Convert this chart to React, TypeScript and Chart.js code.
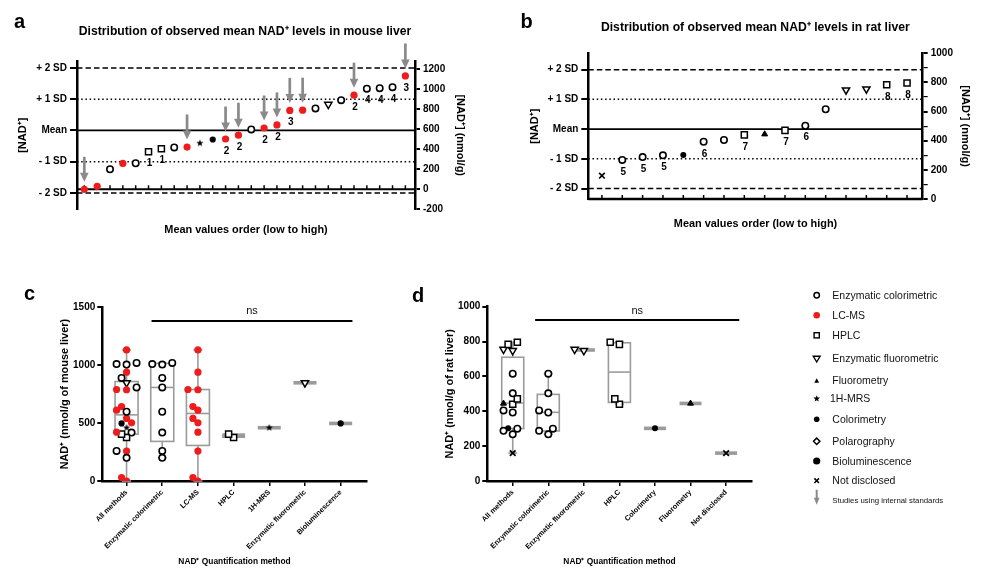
import React, { useEffect, useRef } from "react";
import { Chart, registerables } from "chart.js";

Chart.register(...registerables);

const FONT = "'Liberation Sans', Arial, Helvetica, sans-serif";
Chart.defaults.font.family = FONT;
Chart.defaults.color = "#000";

// ================= DATA =================
// Panel a: mouse liver, studies ordered low -> high
const MOUSE_VALUES = [0, 30, 200, 258, 260, 375, 405, 418, 422, 460, 497, 502, 540, 598, 612, 643, 788, 790, 808, 848, 890, 940, 1005, 1010, 1020, 1132];
const MOUSE_METHODS = [
  "LC-MS", "LC-MS", "Enzymatic colorimetric", "LC-MS", "Enzymatic colorimetric",
  "HPLC", "HPLC", "Enzymatic colorimetric", "LC-MS", "1H-MRS",
  "Bioluminescence", "LC-MS", "LC-MS", "Enzymatic colorimetric", "LC-MS",
  "LC-MS", "LC-MS", "LC-MS", "Enzymatic colorimetric", "Enzymatic fluorometric",
  "Enzymatic colorimetric", "LC-MS", "Enzymatic colorimetric", "Enzymatic colorimetric", "Enzymatic colorimetric",
  "LC-MS",
];
const MOUSE_INTERNAL_STD = [1, 0, 0, 0, 0, 0, 0, 0, 1, 0, 0, 1, 1, 0, 1, 1, 1, 1, 0, 0, 0, 1, 0, 0, 0, 1];
const MOUSE_STUDY_TAGS = ["", "", "", "", "", "1", "1", "", "", "", "", "2", "2", "", "2", "2", "3", "", "", "", "", "2", "4", "4", "4", "3"];
const MOUSE_MEAN = 588;
const MOUSE_SD = 312;
const MOUSE_RIGHT_TICKS = [-200, 0, 200, 400, 600, 800, 1000, 1200];

// Panel b: rat liver
const RAT_VALUES = [160, 268, 288, 300, 302, 393, 405, 440, 445, 471, 503, 616, 748, 755, 784, 796];
const RAT_METHODS = [
  "Not disclosed", "Enzymatic colorimetric", "Enzymatic colorimetric", "Enzymatic colorimetric", "Colorimetry",
  "Enzymatic colorimetric", "Enzymatic colorimetric", "HPLC", "Fluorometry", "HPLC",
  "Enzymatic colorimetric", "Enzymatic colorimetric", "Enzymatic fluorometric", "Enzymatic fluorometric", "HPLC",
  "HPLC",
];
const RAT_STUDY_TAGS = ["", "5", "5", "5", "", "6", "", "7", "", "7", "6", "", "", "", "8", "8"];
const RAT_MEAN = 480;
const RAT_SD = 204;
const RAT_RIGHT_TICKS = [0, 100, 200, 300, 400, 500, 600, 700, 800, 900, 1000];

const SD_LEVELS = [-2, -1, 0, 1, 2];
const SD_LABELS = ["- 2 SD", "- 1 SD", "Mean", "+ 1 SD", "+ 2 SD"];

// Panel c: mouse by method
const MOUSE_CATEGORIES = ["All methods", "Enzymatic colorimetric", "LC-MS", "HPLC", "1H-MRS", "Enzymatic fluorometric", "Bioluminescence"];
const MOUSE_BOX_MIN = [0, 200, 0, 375, 460, 848, 497];
const MOUSE_BOX_Q1 = [405, 342, 307, 378, 460, 848, 497];
const MOUSE_BOX_MED = [571, 808, 583, 390, 460, 848, 497];
const MOUSE_BOX_Q3 = [859, 1015, 790, 405, 460, 848, 497];
const MOUSE_BOX_MAX = [1132, 1020, 1132, 405, 460, 848, 497];
const MOUSE_Y_TICKS = [0, 500, 1000, 1500];

// Panel d: rat by method
const RAT_CATEGORIES = ["All methods", "Enzymatic colorimetric", "Enzymatic fluorometric", "HPLC", "Colorimetry", "Fluorometry", "Not disclosed"];
const RAT_BOX_MIN = [160, 268, 748, 440, 302, 445, 160];
const RAT_BOX_Q1 = [301, 287, 748, 451, 302, 445, 160];
const RAT_BOX_MED = [447, 394, 751, 625, 302, 445, 160];
const RAT_BOX_Q3 = [710, 497, 755, 793, 302, 445, 160];
const RAT_BOX_MAX = [796, 616, 755, 796, 302, 445, 160];
const RAT_Y_TICKS = [0, 200, 400, 600, 800, 1000];

const LEGEND_ITEMS = ["Enzymatic colorimetric", "LC-MS", "HPLC", "Enzymatic fluorometric", "Fluorometry", "1H-MRS", "Colorimetry", "Polarography", "Bioluminescence", "Not disclosed"];

// ================= STYLE =================
const RED = "#ee1c1c";
const GRAY = "#9b9b9b";
const ARROW_GRAY = "#8a8a8a";
const NAD = "NAD\u207A";

function makeStarCanvas(outer: number): HTMLCanvasElement {
  const size = Math.ceil(outer * 2 + 2);
  const c = document.createElement("canvas");
  c.width = size;
  c.height = size;
  const g = c.getContext("2d")!;
  g.fillStyle = "#000";
  g.beginPath();
  for (let i = 0; i < 10; i++) {
    const r = i % 2 === 0 ? outer : outer * 0.42;
    const a = -Math.PI / 2 + (i * Math.PI) / 5;
    const x = size / 2 + r * Math.cos(a);
    const y = size / 2 + r * Math.sin(a);
    if (i === 0) g.moveTo(x, y);
    else g.lineTo(x, y);
  }
  g.closePath();
  g.fill();
  return c;
}

let STAR: HTMLCanvasElement | null = null;
function star() {
  if (!STAR) STAR = makeStarCanvas(3.8);
  return STAR;
}

function markerStyle(method: string) {
  switch (method) {
    case "Enzymatic colorimetric":
      return { pointStyle: "circle", radius: 3.2, bg: "#fff", border: "#000", bw: 1.6, rotation: 0 };
    case "LC-MS":
      return { pointStyle: "circle", radius: 3.6, bg: RED, border: RED, bw: 0, rotation: 0 };
    case "HPLC":
      return { pointStyle: "rect", radius: 4.3, bg: "#fff", border: "#000", bw: 1.5, rotation: 0 };
    case "Enzymatic fluorometric":
      return { pointStyle: "triangle", radius: 4.2, bg: "#fff", border: "#000", bw: 1.5, rotation: 180 };
    case "Fluorometry":
      return { pointStyle: "triangle", radius: 3.4, bg: "#000", border: "#000", bw: 1, rotation: 0 };
    case "1H-MRS":
      return { pointStyle: star(), radius: 4, bg: "#000", border: "#000", bw: 0, rotation: 0 };
    case "Colorimetry":
      return { pointStyle: "circle", radius: 3, bg: "#000", border: "#000", bw: 0, rotation: 0 };
    case "Bioluminescence":
      return { pointStyle: "circle", radius: 3.1, bg: "#000", border: "#000", bw: 0, rotation: 0 };
    case "Not disclosed":
      return { pointStyle: "crossRot", radius: 4, bg: "#000", border: "#000", bw: 1.7, rotation: 0 };
    default:
      return { pointStyle: "circle", radius: 3, bg: "#fff", border: "#000", bw: 1.5, rotation: 0 };
  }
}

function scatterDataset(method: string, data: { x: number; y: number }[], yAxisID: string) {
  const s = markerStyle(method);
  return {
    label: method,
    data,
    xAxisID: "x",
    yAxisID,
    showLine: false,
    pointStyle: s.pointStyle as any,
    pointRadius: s.radius,
    pointHoverRadius: s.radius,
    pointBackgroundColor: s.bg,
    pointBorderColor: s.border,
    pointBorderWidth: s.bw,
    pointRotation: s.rotation,
  };
}

function seriesDatasets(values: number[], methods: string[]) {
  const by: Record<string, { x: number; y: number }[]> = {};
  values.forEach((v, i) => {
    (by[methods[i]] = by[methods[i]] || []).push({ x: i, y: v });
  });
  return LEGEND_ITEMS.filter((m) => by[m]).map((m) => scatterDataset(m, by[m], "yL"));
}

// simple bee-swarm: spread colliding points sideways, at most two steps each way
function swarm(values: number[], pxPerY: number, diam: number, step: number): number[] {
  const order = values.map((_, i) => i).sort((a, b) => values[a] - values[b]);
  const placed: { x: number; y: number }[] = [];
  const res = values.map(() => 0);
  order.forEach((i) => {
    const yy = values[i] * pxPerY;
    let best = 0;
    let bestD = -1;
    for (let k = 0; k <= 4; k++) {
      const m = Math.ceil(k / 2) * (k % 2 === 1 ? -1 : 1);
      const xx = m * step;
      const d = placed.reduce((acc, p) => Math.min(acc, Math.hypot(p.x - xx, p.y - yy)), Infinity);
      if (d >= diam) {
        best = xx;
        bestD = Infinity;
        break;
      }
      if (d > bestD) {
        bestD = d;
        best = xx;
      }
    }
    res[i] = best;
    placed.push({ x: best, y: yy });
  });
  return res;
}

function columnDatasets(values: number[], methods: string[], categories: string[], pxPerY: number, pxPerX: number, diam: number, step: number) {
  const by: Record<string, { x: number; y: number }[]> = {};
  categories.forEach((cat, ci) => {
    const idx = values.map((_, i) => i).filter((i) => ci === 0 || methods[i] === cat);
    const offs = swarm(idx.map((i) => values[i]), pxPerY, diam, step);
    idx.forEach((i, j) => {
      (by[methods[i]] = by[methods[i]] || []).push({ x: ci + offs[j] / pxPerX, y: values[i] });
    });
  });
  return LEGEND_ITEMS.filter((m) => by[m]).map((m) => scatterDataset(m, by[m], "y"));
}

// ================= DRAW HELPERS =================
function seg(ctx: CanvasRenderingContext2D, x1: number, y1: number, x2: number, y2: number) {
  ctx.beginPath();
  ctx.moveTo(x1, y1);
  ctx.lineTo(x2, y2);
  ctx.stroke();
}

function drawSdLines(ctx: CanvasRenderingContext2D, ca: any, yScale: any, mean: number, sd: number) {
  ctx.strokeStyle = "#000";
  SD_LEVELS.forEach((k) => {
    const py = yScale.getPixelForValue(mean + k * sd);
    ctx.lineWidth = k === 0 ? 1.7 : 1.5;
    ctx.setLineDash(Math.abs(k) === 2 ? [5.5, 3] : Math.abs(k) === 1 ? [1.5, 2.7] : []);
    seg(ctx, ca.left, py, ca.right, py);
  });
  ctx.setLineDash([]);
}

function drawArrow(ctx: CanvasRenderingContext2D, x: number, tipY: number) {
  const total = 25;
  const headH = 9;
  const headW = 8.6;
  const shaftW = 2.7;
  ctx.fillStyle = ARROW_GRAY;
  ctx.fillRect(x - shaftW / 2, tipY - total, shaftW, total - headH + 0.5);
  ctx.beginPath();
  ctx.moveTo(x - headW / 2, tipY - headH);
  ctx.lineTo(x + headW / 2, tipY - headH);
  ctx.lineTo(x, tipY);
  ctx.closePath();
  ctx.fill();
}

function orderPlugin(id: string, values: number[], mean: number, sd: number, tags: string[], arrows: number[] | null, axisWidth: number) {
  return {
    id,
    beforeDatasetsDraw(chart: any) {
      const { ctx, chartArea: ca, scales } = chart;
      const y = scales.yL;
      const x = scales.x;
      ctx.save();
      drawSdLines(ctx, ca, y, mean, sd);
      const y0 = y.getPixelForValue(0);
      ctx.strokeStyle = "#000";
      ctx.lineWidth = axisWidth;
      seg(ctx, ca.left, y0, ca.right, y0);
      ctx.lineWidth = 1.5;
      values.forEach((_, i) => {
        const px = x.getPixelForValue(i);
        seg(ctx, px, y0, px, y0 - 4);
      });
      ctx.restore();
    },
    afterDatasetsDraw(chart: any) {
      const { ctx, scales } = chart;
      const y = scales.yL;
      const x = scales.x;
      ctx.save();
      ctx.font = `bold 10px ${FONT}`;
      ctx.textAlign = "center";
      ctx.textBaseline = "middle";
      values.forEach((v, i) => {
        const px = x.getPixelForValue(i);
        const py = y.getPixelForValue(v);
        if (tags[i]) {
          ctx.fillStyle = "#000";
          ctx.fillText(tags[i], px + 1, py + 12);
        }
        if (arrows && arrows[i]) drawArrow(ctx, px, py - 7.5);
      });
      ctx.restore();
    },
  };
}

function boxPlugin(id: string, mins: number[], q1s: number[], meds: number[], q3s: number[], maxs: number[], halfW: number, ns: { from: number; to: number; lineY: number; textY: number }) {
  return {
    id,
    beforeDatasetsDraw(chart: any) {
      const { ctx, scales } = chart;
      const x = scales.x;
      const y = scales.y;
      ctx.save();
      ctx.strokeStyle = GRAY;
      ctx.fillStyle = GRAY;
      ctx.lineWidth = 1.6;
      mins.forEach((mn, i) => {
        const cx = x.getPixelForValue(i);
        const pMin = y.getPixelForValue(mn);
        const pQ1 = y.getPixelForValue(q1s[i]);
        const pMed = y.getPixelForValue(meds[i]);
        const pQ3 = y.getPixelForValue(q3s[i]);
        const pMax = y.getPixelForValue(maxs[i]);
        if (pQ1 - pQ3 < 4) {
          const h = Math.max(3.6, pQ1 - pQ3 + 1.6);
          const mid = (pQ1 + pQ3) / 2;
          ctx.fillRect(cx - halfW, mid - h / 2, halfW * 2, h);
        } else {
          ctx.strokeRect(cx - halfW, pQ3, halfW * 2, pQ1 - pQ3);
          seg(ctx, cx - halfW, pMed, cx + halfW, pMed);
        }
        if (pMax < pQ3 - 0.5) {
          seg(ctx, cx, pQ3, cx, pMax);
          seg(ctx, cx - 4.5, pMax, cx + 4.5, pMax);
        }
        if (pMin > pQ1 + 0.5) {
          seg(ctx, cx, pQ1, cx, pMin);
          seg(ctx, cx - 4.5, pMin, cx + 4.5, pMin);
        }
      });
      ctx.restore();
    },
    afterDatasetsDraw(chart: any) {
      const { ctx, scales } = chart;
      const x = scales.x;
      const y = scales.y;
      ctx.save();
      ctx.strokeStyle = "#000";
      ctx.lineWidth = 2;
      const ly = y.getPixelForValue(ns.lineY);
      const x1 = x.getPixelForValue(ns.from);
      const x2 = x.getPixelForValue(ns.to);
      seg(ctx, x1, ly, x2, ly);
      ctx.fillStyle = "#111";
      ctx.font = `11px ${FONT}`;
      ctx.textAlign = "center";
      ctx.textBaseline = "middle";
      ctx.fillText("ns", (x1 + x2) / 2, y.getPixelForValue(ns.textY));
      ctx.restore();
    },
  };
}

// ================= CHART CONFIGS =================
const BASE_OPTIONS = {
  responsive: false,
  animation: false as const,
  events: [] as any[],
};

function orderConfig(p: {
  values: number[];
  methods: string[];
  tags: string[];
  arrows: number[] | null;
  mean: number;
  sd: number;
  rightTicks: number[];
  yMin: number;
  yMax: number;
  xMin: number;
  xMax: number;
  title: string;
  titlePad: { top: number; bottom: number };
  padLeft: number;
  leftW: number;
  rightW: number;
  leftTitlePad: number;
  rightTitlePad: number;
  xH: number;
  xTitlePad: number;
  axisWidth: number;
  id: string;
  minorEvery?: number;
}) {
  const bold = (size: number) => ({ size, weight: "bold" as const, family: FONT });
  return {
    type: "scatter" as const,
    data: { datasets: seriesDatasets(p.values, p.methods) },
    options: {
      ...BASE_OPTIONS,
      layout: { padding: { left: p.padLeft, right: 0, top: 0, bottom: 0 } },
      plugins: {
        legend: { display: false },
        tooltip: { enabled: false },
        title: { display: true, text: p.title, font: bold(12.2), color: "#000", padding: p.titlePad },
      },
      scales: {
        x: {
          type: "linear",
          position: "bottom",
          min: p.xMin,
          max: p.xMax,
          ticks: { display: false },
          grid: { display: false },
          border: { display: false },
          title: { display: true, text: "Mean values order (low to high)", font: bold(10.9), color: "#000", padding: { top: 0, bottom: p.xTitlePad } },
          afterFit: (s: any) => {
            s.height = p.xH;
          },
        },
        yL: {
          type: "linear",
          position: "left",
          min: p.yMin,
          max: p.yMax,
          afterBuildTicks: (s: any) => {
            s.ticks = SD_LEVELS.map((k) => ({ value: p.mean + k * p.sd }));
          },
          ticks: { callback: (_v: any, i: number) => SD_LABELS[i], font: bold(10), color: "#000", padding: 3, autoSkip: false },
          grid: { drawOnChartArea: false, color: "#000", lineWidth: 2, tickLength: 7 },
          border: { color: "#000", width: 2.5 },
          title: { display: true, text: `[${NAD}]`, font: bold(11), color: "#000", padding: { top: p.leftTitlePad, bottom: 0 } },
          afterFit: (s: any) => {
            s.width = p.leftW;
          },
        },
        yR: {
          type: "linear",
          position: "right",
          min: p.yMin,
          max: p.yMax,
          afterBuildTicks: (s: any) => {
            s.ticks = p.rightTicks.map((v) => ({ value: v }));
          },
          ticks: {
            callback: (v: any) => (p.minorEvery && v % p.minorEvery !== 0 ? "" : String(v)),
            font: bold(10),
            color: "#000",
            padding: 3,
            autoSkip: false,
          },
          grid: {
            drawOnChartArea: false,
            color: "#000",
            lineWidth: (c: any) => (p.minorEvery && c.tick && c.tick.value % p.minorEvery !== 0 ? 1.2 : 2),
            tickLength: 5,
          },
          border: { color: "#000", width: 2.5 },
          title: { display: true, text: `[${NAD}] (nmol/g)`, font: bold(11), color: "#000", padding: { top: p.rightTitlePad, bottom: 0 } },
          afterFit: (s: any) => {
            s.width = p.rightW;
          },
        },
      },
    },
    plugins: [orderPlugin(p.id, p.values, p.mean, p.sd, p.tags, p.arrows, p.axisWidth)],
  };
}

function methodConfig(p: {
  values: number[];
  methods: string[];
  categories: string[];
  box: number[][];
  yTicks: number[];
  yMax: number;
  xMin: number;
  xMax: number;
  pxPerY: number;
  pxPerX: number;
  step: number;
  diam: number;
  halfW: number;
  yTitle: string;
  yTitlePad: number;
  leftW: number;
  padRight: number;
  padTop: number;
  xH: number;
  xTitlePad: number;
  ns: { from: number; to: number; lineY: number; textY: number };
  id: string;
}) {
  const bold = (size: number) => ({ size, weight: "bold" as const, family: FONT });
  return {
    type: "scatter" as const,
    data: { datasets: columnDatasets(p.values, p.methods, p.categories, p.pxPerY, p.pxPerX, p.diam, p.step) },
    options: {
      ...BASE_OPTIONS,
      layout: { padding: { left: 0, right: p.padRight, top: p.padTop, bottom: 0 } },
      plugins: { legend: { display: false }, tooltip: { enabled: false }, title: { display: false } },
      scales: {
        x: {
          type: "linear",
          position: "bottom",
          min: p.xMin,
          max: p.xMax,
          afterBuildTicks: (s: any) => {
            s.ticks = p.categories.map((_, i) => ({ value: i }));
          },
          ticks: {
            callback: (v: any) => p.categories[v] ?? "",
            autoSkip: false,
            maxRotation: 45,
            minRotation: 45,
            font: bold(7.3),
            color: "#000",
            padding: 2,
          },
          grid: { drawOnChartArea: false, color: "#000", lineWidth: 1.5, tickLength: 5 },
          border: { color: "#000", width: 2.5 },
          title: { display: true, text: `${NAD} Quantification method`, font: bold(8.4), color: "#000", padding: { top: 0, bottom: p.xTitlePad } },
          afterFit: (s: any) => {
            s.height = p.xH;
          },
        },
        y: {
          type: "linear",
          position: "left",
          min: 0,
          max: p.yMax,
          afterBuildTicks: (s: any) => {
            s.ticks = p.yTicks.map((v) => ({ value: v }));
          },
          ticks: { callback: (v: any) => String(v), font: bold(10), color: "#000", padding: 2, autoSkip: false },
          grid: { drawOnChartArea: false, color: "#000", lineWidth: 2, tickLength: 5 },
          border: { color: "#000", width: 2.5 },
          title: { display: true, text: p.yTitle, font: bold(10.9), color: "#000", padding: { top: p.yTitlePad, bottom: 0 } },
          afterFit: (s: any) => {
            s.width = p.leftW;
          },
        },
      },
    },
    plugins: [boxPlugin(p.id, p.box[0], p.box[1], p.box[2], p.box[3], p.box[4], p.halfW, p.ns)],
  };
}

// ================= COMPONENTS =================
function ChartCanvas({ left, top, width, height, build }: { left: number; top: number; width: number; height: number; build: () => any }) {
  const ref = useRef<HTMLCanvasElement>(null);
  useEffect(() => {
    const chart = new Chart(ref.current as HTMLCanvasElement, build());
    return () => chart.destroy();
  }, []);
  return (
    <div style={{ position: "absolute", left, top, width, height }}>
      <canvas ref={ref} width={width} height={height} style={{ width, height, display: "block" }} />
    </div>
  );
}

function PanelLetter({ text, left, top }: { text: string; left: number; top: number }) {
  return (
    <div style={{ position: "absolute", left, top, fontFamily: FONT, fontWeight: "bold", fontSize: 20, lineHeight: "20px", color: "#000" }}>{text}</div>
  );
}

const LEGEND_Y = [295.3, 315.3, 335.3, 358.7, 380.7, 398.7, 419.3, 441.3, 461, 480.7];
const LEGEND_ARROW_Y = 500.7;

function LegendMarker({ method, x, y }: { method: string; x: number; y: number }) {
  switch (method) {
    case "Enzymatic colorimetric":
      return <circle cx={x} cy={y} r={2.7} fill="#fff" stroke="#000" strokeWidth={1.5} />;
    case "LC-MS":
      return <circle cx={x} cy={y} r={3.3} fill={RED} />;
    case "HPLC":
      return <rect x={x - 2.6} y={y - 2.6} width={5.2} height={5.2} fill="#fff" stroke="#000" strokeWidth={1.4} />;
    case "Enzymatic fluorometric":
      return <polygon points={`${x - 3.4},${y - 2.4} ${x + 3.4},${y - 2.4} ${x},${y + 3.3}`} fill="#fff" stroke="#000" strokeWidth={1.4} />;
    case "Fluorometry":
      return <polygon points={`${x - 2.4},${y + 2} ${x + 2.4},${y + 2} ${x},${y - 2.4}`} fill="#000" />;
    case "1H-MRS": {
      const pts: string[] = [];
      for (let i = 0; i < 10; i++) {
        const r = i % 2 === 0 ? 3.5 : 1.5;
        const a = -Math.PI / 2 + (i * Math.PI) / 5;
        pts.push(`${x + r * Math.cos(a)},${y + r * Math.sin(a)}`);
      }
      return <polygon points={pts.join(" ")} fill="#000" />;
    }
    case "Colorimetry":
      return <circle cx={x} cy={y} r={2.8} fill="#000" />;
    case "Polarography":
      return <polygon points={`${x},${y - 3.2} ${x + 3.2},${y} ${x},${y + 3.2} ${x - 3.2},${y}`} fill="#fff" stroke="#000" strokeWidth={1.5} />;
    case "Bioluminescence":
      return <circle cx={x} cy={y} r={3.6} fill="#000" />;
    case "Not disclosed":
      return (
        <g stroke="#000" strokeWidth={1.5}>
          <line x1={x - 2.3} y1={y - 2.3} x2={x + 2.3} y2={y + 2.3} />
          <line x1={x - 2.3} y1={y + 2.3} x2={x + 2.3} y2={y - 2.3} />
        </g>
      );
    default:
      return null;
  }
}

function Legend() {
  const mx = 816.7;
  return (
    <>
      <svg style={{ position: "absolute", left: 0, top: 0 }} width={998} height={576}>
        {LEGEND_ITEMS.map((m, i) => (
          <LegendMarker key={m} method={m} x={mx} y={LEGEND_Y[i]} />
        ))}
        <rect x={mx - 1} y={LEGEND_ARROW_Y - 11} width={2} height={9} fill={ARROW_GRAY} />
        <polygon points={`${mx - 2.8},${LEGEND_ARROW_Y - 3} ${mx + 2.8},${LEGEND_ARROW_Y - 3} ${mx},${LEGEND_ARROW_Y + 4}`} fill={ARROW_GRAY} />
      </svg>
      {LEGEND_ITEMS.map((m, i) => (
        <div
          key={m}
          style={{ position: "absolute", left: m === "1H-MRS" ? 830 : 832.3, top: LEGEND_Y[i] - 6.5, fontFamily: FONT, fontSize: 10.5, lineHeight: "13px", color: "#111", whiteSpace: "nowrap" }}
        >
          {m}
        </div>
      ))}
      <div style={{ position: "absolute", left: 832.3, top: LEGEND_ARROW_Y - 5.5, fontFamily: FONT, fontSize: 7.8, lineHeight: "11px", color: "#111", whiteSpace: "nowrap" }}>
        Studies using internal standards
      </div>
    </>
  );
}

export default function App() {
  return (
    <div style={{ position: "absolute", left: 0, top: 0, width: 998, height: 576, background: "#fff", overflow: "hidden" }}>
      <ChartCanvas
        left={0}
        top={0}
        width={490}
        height={250}
        build={() =>
          orderConfig({
            id: "panelA",
            values: MOUSE_VALUES,
            methods: MOUSE_METHODS,
            tags: MOUSE_STUDY_TAGS,
            arrows: MOUSE_INTERNAL_STD,
            mean: MOUSE_MEAN,
            sd: MOUSE_SD,
            rightTicks: MOUSE_RIGHT_TICKS,
            yMin: -200,
            yMax: 1280,
            xMin: -0.57,
            xMax: 25.75,
            title: `Distribution of observed mean ${NAD} levels in mouse liver`,
            titlePad: { top: 24.6, bottom: 21.9 },
            padLeft: 0,
            leftW: 77,
            rightW: 75,
            leftTitlePad: 16.7,
            rightTitlePad: 23.4,
            xH: 40.7,
            xTitlePad: 13.5,
            axisWidth: 2,
          })
        }
      />
      <ChartCanvas
        left={500}
        top={0}
        width={498}
        height={250}
        build={() =>
          orderConfig({
            id: "panelB",
            values: RAT_VALUES,
            methods: RAT_METHODS,
            tags: RAT_STUDY_TAGS,
            arrows: null,
            mean: RAT_MEAN,
            sd: RAT_SD,
            rightTicks: RAT_RIGHT_TICKS,
            yMin: 0,
            yMax: 1000,
            xMin: -0.67,
            xMax: 15.77,
            title: `Distribution of observed mean ${NAD} levels in rat liver`,
            titlePad: { top: 20, bottom: 18.7 },
            padLeft: 12.6,
            leftW: 75.7,
            rightW: 75.3,
            leftTitlePad: 15.8,
            rightTitlePad: 26.4,
            xH: 51,
            xTitlePad: 19.5,
            axisWidth: 2.5,
            minorEvery: 200,
          })
        }
      />
      <ChartCanvas
        left={0}
        top={280}
        width={400}
        height={296}
        build={() =>
          methodConfig({
            id: "panelC",
            values: MOUSE_VALUES,
            methods: MOUSE_METHODS,
            categories: MOUSE_CATEGORIES,
            box: [MOUSE_BOX_MIN, MOUSE_BOX_Q1, MOUSE_BOX_MED, MOUSE_BOX_Q3, MOUSE_BOX_MAX],
            yTicks: MOUSE_Y_TICKS,
            yMax: 1500,
            xMin: -0.68,
            xMax: 6.73,
            pxPerY: 173.7 / 1500,
            pxPerX: 35.68,
            step: 5,
            diam: 5.8,
            halfW: 11.5,
            yTitle: `${NAD} (nmol/g of mouse liver)`,
            yTitlePad: 58,
            leftW: 102.3,
            padRight: 33.3,
            padTop: 27.3,
            xH: 95,
            xTitlePad: 9.3,
            ns: { from: 0.7, to: 6.33, lineY: 1382, textY: 1468 },
          })
        }
      />
      <ChartCanvas
        left={400}
        top={280}
        width={380}
        height={296}
        build={() =>
          methodConfig({
            id: "panelD",
            values: RAT_VALUES,
            methods: RAT_METHODS,
            categories: RAT_CATEGORIES,
            box: [RAT_BOX_MIN, RAT_BOX_Q1, RAT_BOX_MED, RAT_BOX_Q3, RAT_BOX_MAX],
            yTicks: RAT_Y_TICKS,
            yMax: 1000,
            xMin: -0.715,
            xMax: 6.72,
            pxPerY: 174.3 / 1000,
            pxPerX: 35.56,
            step: 4.6,
            diam: 6.6,
            halfW: 11,
            yTitle: `${NAD} (nmol/g of rat liver)`,
            yTitlePad: 43.7,
            leftW: 87.3,
            padRight: 28.3,
            padTop: 26.7,
            xH: 95,
            xTitlePad: 9.3,
            ns: { from: 0.63, to: 6.37, lineY: 924, textY: 977 },
          })
        }
      />
      <PanelLetter text="a" left={14} top={11} />
      <PanelLetter text="b" left={520.5} top={11.4} />
      <PanelLetter text="c" left={24} top={283} />
      <PanelLetter text="d" left={412} top={284.8} />
      <Legend />
    </div>
  );
}
